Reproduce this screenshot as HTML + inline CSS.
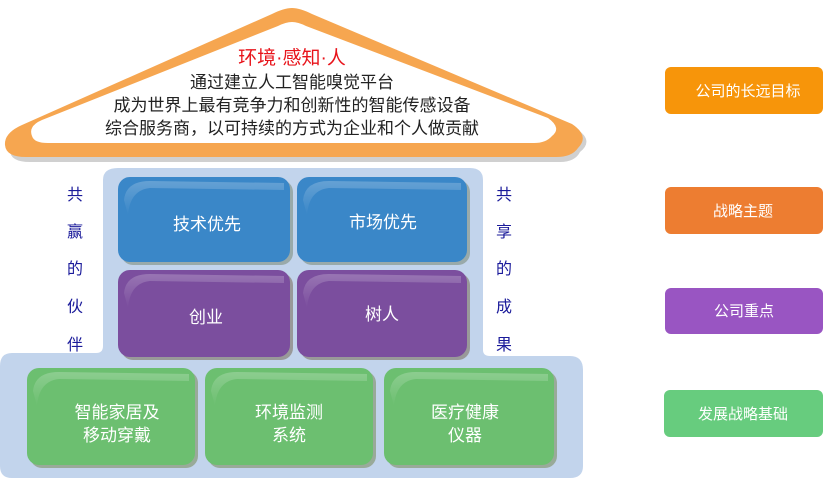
<!DOCTYPE html>
<html><head><meta charset="utf-8"><style>
html,body{margin:0;padding:0;background:#fff;}
body{width:839px;height:478px;overflow:hidden;font-family:"Liberation Sans","Noto Sans CJK SC",sans-serif;}
</style></head><body>
<svg width="839" height="478" viewBox="0 0 839 478" xmlns="http://www.w3.org/2000/svg" font-family="'Liberation Sans','Noto Sans CJK SC',sans-serif">
<defs>
<linearGradient id="gl" x1="0" y1="0" x2="0" y2="1"><stop offset="0" stop-color="#fff" stop-opacity="0.22"/><stop offset="1" stop-color="#fff" stop-opacity="0"/></linearGradient>
</defs>
<path d="M295,14 Q302,14 315,20 L575,128 Q595,140 580,152 Q575,162 560,162 L30,162 Q10,162 10,150 Q8,138 25,130 L275,20 Q288,14 295,14 Z" fill="#d0d0d0"/>
<path d="M292,8 Q300,8 312,14 L572,124 Q590,136 578,148 Q572,157 556,157 L26,157 Q6,157 5,145 Q4,133 22,125 L272,14 Q284,8 292,8 Z" fill="#F6A650"/>
<path d="M292,22 Q298,22 306,26 L548,118 Q562,128 552,136 Q546,143 534,143 L48,143 Q34,143 32,136 Q28,126 42,120 L278,26 Q286,22 292,22 Z" fill="#fff"/>
<text x="292" y="64" text-anchor="middle" font-size="19" fill="#e8141b">环境·感知·人</text>
<g font-size="17" fill="#222" text-anchor="middle">
<text x="292" y="88">通过建立人工智能嗅觉平台</text>
<text x="292" y="111">成为世界上最有竞争力和创新性的智能传感设备</text>
<text x="292" y="134">综合服务商，以可持续的方式为企业和个人做贡献</text>
</g>
<path d="M118,168 L470,168 Q483,168 483,180 L483,350 Q483,356 490,356 L570,356 Q583,356 583,370 L583,466 Q583,478 570,478 L12,478 Q0,478 0,466 L0,366 Q0,353 12,353 L96,353 Q103,353 103,346 L103,180 Q103,168 118,168 Z" fill="#C2D4EC"/>
<g>
<rect x="121" y="180" width="172" height="85" rx="12" fill="#9aa"/>
<rect x="118" y="177" width="172" height="85" rx="12" fill="#3A87C8"/>
<rect x="300" y="180" width="170" height="85" rx="12" fill="#9aa"/>
<rect x="297" y="177" width="170" height="85" rx="12" fill="#3A87C8"/>
<rect x="121" y="273" width="172" height="87" rx="12" fill="#999"/>
<rect x="118" y="270" width="172" height="87" rx="12" fill="#7B4E9E"/>
<rect x="300" y="273" width="170" height="87" rx="12" fill="#999"/>
<rect x="297" y="270" width="170" height="87" rx="12" fill="#7B4E9E"/>
<rect x="30" y="371" width="168" height="97" rx="12" fill="#9a9"/>
<rect x="27" y="368" width="168" height="97" rx="12" fill="#6CBF70"/>
<rect x="208" y="371" width="168" height="97" rx="12" fill="#9a9"/>
<rect x="205" y="368" width="168" height="97" rx="12" fill="#6CBF70"/>
<rect x="387" y="371" width="170" height="97" rx="12" fill="#9a9"/>
<rect x="384" y="368" width="170" height="97" rx="12" fill="#6CBF70"/>
</g>
<g fill="url(#gl)">
<path d="M124,200 Q126,181 150,181 L284,183 L284,190 L150,188 Q130,190 128,215 Z"/>
<path d="M303,200 Q305,181 329,181 L461,183 L461,190 L329,188 Q309,190 307,215 Z"/>
<path d="M124,293 Q126,274 150,274 L284,276 L284,283 L150,281 Q130,283 128,308 Z"/>
<path d="M303,293 Q305,274 329,274 L461,276 L461,283 L329,281 Q309,283 307,308 Z"/>
<path d="M33,391 Q35,372 59,372 L189,374 L189,381 L59,379 Q39,381 37,406 Z"/>
<path d="M211,391 Q213,372 237,372 L367,374 L367,381 L237,379 Q217,381 215,406 Z"/>
<path d="M390,391 Q392,372 416,372 L548,374 L548,381 L416,379 Q396,381 394,406 Z"/>
</g>
<g font-size="17" fill="#fff" text-anchor="middle">
<text x="207" y="230">技术优先</text>
<text x="383" y="228">市场优先</text>
<text x="206" y="323">创业</text>
<text x="382" y="320">树人</text>
<text x="117" y="418">智能家居及</text>
<text x="117" y="441">移动穿戴</text>
<text x="289" y="418">环境监测</text>
<text x="289" y="441">系统</text>
<text x="465" y="418">医疗健康</text>
<text x="465" y="441">仪器</text>
</g>
<g font-size="16" fill="#1a1a9a" text-anchor="middle">
<text x="75" y="200">共</text><text x="75" y="237">赢</text><text x="75" y="274">的</text><text x="75" y="312">伙</text><text x="75" y="350">伴</text>
<text x="504" y="200">共</text><text x="504" y="237">享</text><text x="504" y="274">的</text><text x="504" y="312">成</text><text x="504" y="350">果</text>
</g>
<rect x="665" y="67" width="158" height="47" rx="6" fill="#F7950A"/>
<rect x="665" y="187" width="158" height="47" rx="6" fill="#ED7D31"/>
<rect x="665" y="288" width="158" height="46" rx="6" fill="#9955C2"/>
<rect x="664" y="390" width="159" height="47" rx="6" fill="#67CC7E"/>
<g font-size="15" fill="#fff" text-anchor="middle">
<text x="748" y="96">公司的长远目标</text>
<text x="743" y="216">战略主题</text>
<text x="744" y="316">公司重点</text>
<text x="743" y="419">发展战略基础</text>
</g>
</svg>
</body></html>
